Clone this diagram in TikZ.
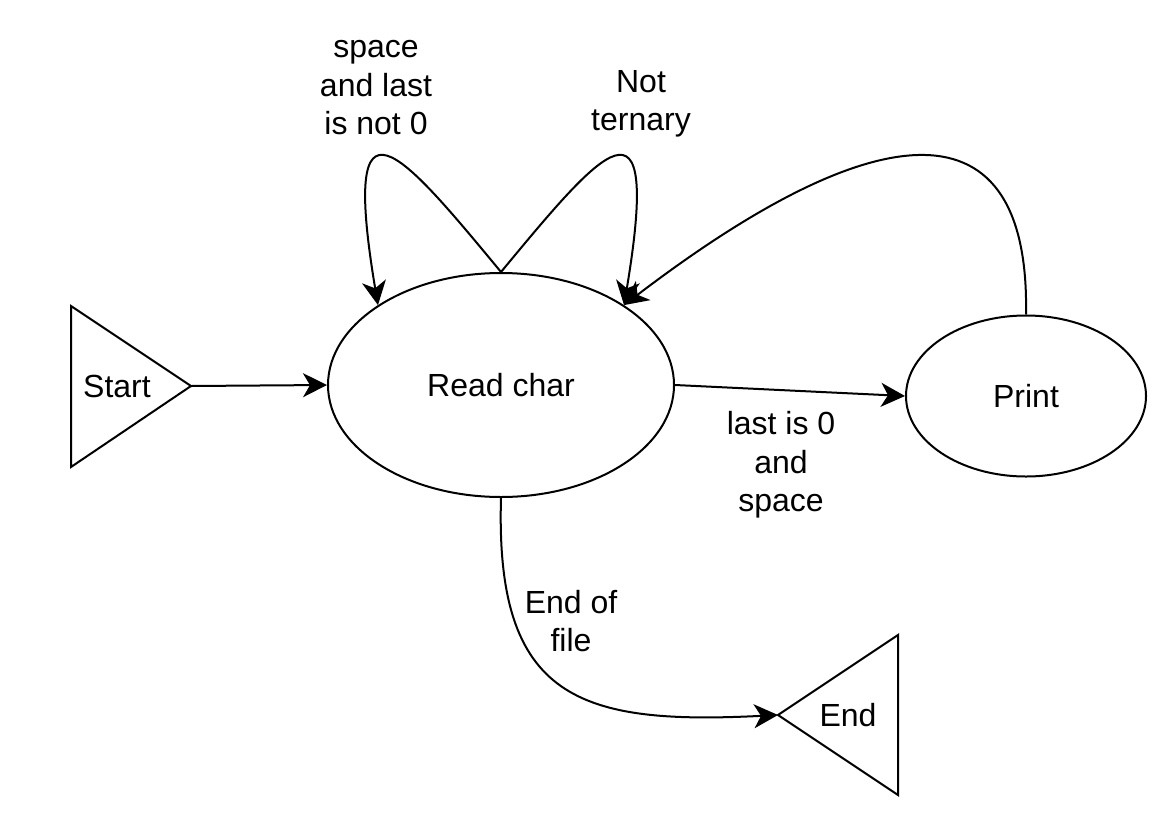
\documentclass[tikz,border=0pt]{standalone}
\usepackage{fontspec}
\setmainfont{Liberation Sans}
\usetikzlibrary{arrows.meta,shapes.geometric}
\tikzset{
  state/.style={draw, ellipse, line width=1pt, inner sep=0pt},
  arr/.style={-{Stealth[length=12pt,width=12pt,inset=3.5pt]}, line width=1pt},
  lbl/.style={align=center}
}
\begin{document}
\begin{tikzpicture}[x=0.5pt, y=-0.5pt]
    \fontsize{16pt}{19.25pt}\selectfont
    \useasboundingbox (0, 0) rectangle (1166, 830);
    % states
    \node[state, minimum width=173pt, minimum height=112pt] (read) at (501, 385) {Read char};
    \node[state, minimum width=120pt, minimum height=80.5pt] (print) at (1026, 396) {Print};
    % start and end triangles
    \draw[line width=1pt, line join=miter] (71, 306) -- (191, 386) -- (71, 467) -- cycle;
    \coordinate (starttip) at (191, 386);
    \node (start) at (117, 386) {Start};
    \draw[line width=1pt, line join=miter] (898, 635) -- (778, 715) -- (898, 795) -- cycle;
    \coordinate (endtip) at (778, 715);
    \node (end) at (848, 715) {End};
    % transitions
    \draw[arr] (starttip) -- (read.west);
    \draw[arr] (read.east) -- (print.west);
    \draw[arr] (read.north) .. controls (400, 150) and (340, 78) .. (read.147);
    \draw[arr] (read.north) .. controls (602, 150) and (662, 78) .. (read.33);
    \draw[arr] (print.north) .. controls (1030, 100) and (880, 110) .. (read.33);
    \draw[arr] (read.south) .. controls (495, 700) and (580, 725) .. (endtip);
    % labels
    \node[lbl] (l1) at (376, 88) {space\\and last\\is not 0};
    \node[lbl] (l2) at (641, 104) {Not\\ternary};
    \node[lbl] (l3) at (781, 465) {last is 0\\and\\space};
    \node[lbl] (l4) at (571, 621) {End of\\file};
\end{tikzpicture}
\end{document}
